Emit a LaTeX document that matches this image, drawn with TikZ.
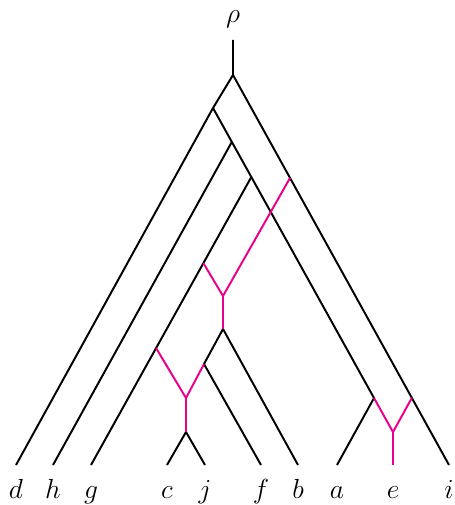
\documentclass[tikz,border=0pt]{standalone}
\usetikzlibrary{calc}
\definecolor{hybrid}{RGB}{230,0,140}

\begin{document}
\begin{tikzpicture}[x=0.435pt, y=-0.435pt, line width=0.85pt,
    reti/.style={draw=hybrid},
    taxon/.style={anchor=base, inner sep=0pt, yshift=-14.6pt, font=\fontsize{12}{14}\selectfont}]
    \useasboundingbox (0,0) rectangle (455,505);
    % Tree vertices:
    \node[anchor=base, inner sep=0pt, font=\fontsize{12.5}{15}\selectfont] (rho) at (233,23) {$\rho$};
    \coordinate (top) at (233,40);
    \coordinate (r) at (233,75);
    \coordinate (v1) at (213,108);
    \coordinate (w) at (374,398);
    \coordinate (v2) at ($(v1)!0.117!(w)$);
    \coordinate (v3) at ($(v1)!0.238!(w)$);
    \coordinate (h1) at (223,296);
    \coordinate (h1b) at (223,329);
    \coordinate (x1) at (204,364);
    \coordinate (h2) at (186,398);
    \coordinate (h2b) at (186,432);
    \coordinate (h3) at (393,432);
    % Leaves and their labels:
    \foreach \n/\x in {d/16, h/53, g/91, c/167, j/205, f/261, b/298, a/337, e/393, i/449} {
        \coordinate (\n) at (\x,465);
        \node[taxon] (l\n) at (\n) {$\n$};
    }
    \coordinate (p1) at ($(r)!0.264!(i)$);
    \coordinate (q2) at ($(r)!0.828!(i)$);
    \coordinate (p2) at ($(v3)!0.299!(g)$);
    \coordinate (p3) at ($(v3)!0.594!(g)$);
    % Black tree edges:
    \draw (top) -- (r) -- (i);
    \draw (r) -- (v1) -- (d);
    \draw (v1) -- (w) -- (a);
    \draw (v2) -- (h);
    \draw (v3) -- (g);
    \draw (c) -- (h2b) -- (j);
    \draw (b) -- (h1b) -- (x1) -- (f);
    % Reticulation edges:
    \draw[reti] (p1) -- (h1) -- (p2);
    \draw[reti] (h1) -- (h1b);
    \draw[reti] (p3) -- (h2) -- (x1);
    \draw[reti] (h2) -- (h2b);
    \draw[reti] (w) -- (h3) -- (q2);
    \draw[reti] (h3) -- (e);
\end{tikzpicture}
\end{document}
